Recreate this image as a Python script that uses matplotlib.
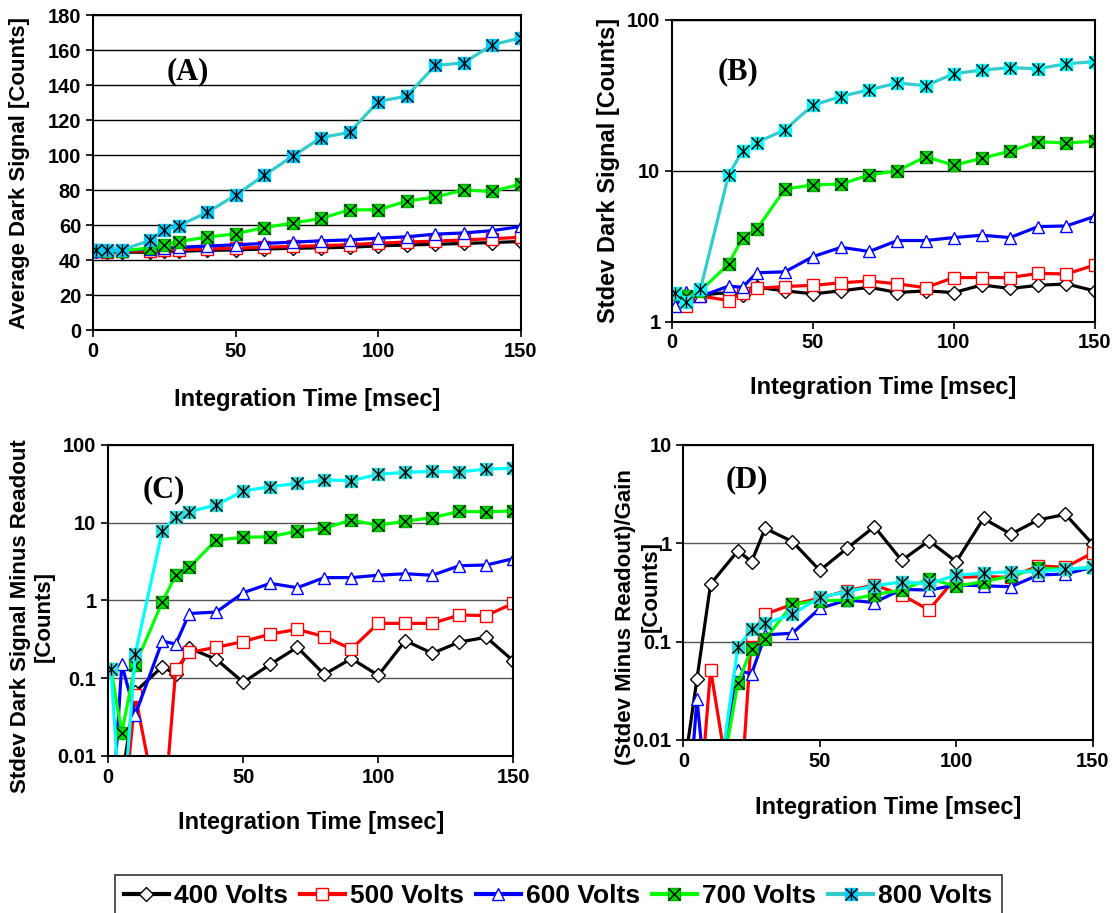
import numpy as np
import matplotlib
matplotlib.use("Agg")
import matplotlib.pyplot as plt
from matplotlib.lines import Line2D

plt.rcParams["font.family"] = ["Liberation Sans", "DejaVu Sans"]
plt.rcParams["font.weight"] = "bold"

# integration time [msec]
x = [1, 5, 10, 20, 25, 30, 40, 50, 60, 70, 80, 90, 100, 110, 120, 130, 140, 150]
volts = ["400 Volts", "500 Volts", "600 Volts", "700 Volts", "800 Volts"]
LOW = 0.001  # points that fall below the log axes

# (A) average dark signal
a400 = [45, 44.5, 44.5, 44.5, 45, 45, 45.5, 45.8, 46.3, 46.7, 47, 47.3, 48.1, 48.6, 49, 49.5, 50, 50.6]
a500 = [45, 44.8, 45, 45.3, 45.7, 46, 46.3, 46.8, 47.3, 47.8, 48.2, 48.8, 49.6, 50.3, 50.8, 51.5, 52.2, 53]
a600 = [45.3, 45.2, 45.5, 46.3, 46.8, 47.3, 48, 48.7, 49.5, 50.2, 51, 51.5, 52.5, 53.3, 54.8, 55.5, 56.8, 59.2]
a700 = [45.8, 45.4, 45.4, 46.8, 48.7, 50.6, 53.1, 55, 58.6, 61.1, 63.8, 68.7, 68.7, 73.7, 76, 80, 79.2, 83.4]
a800 = [45.8, 45.8, 45.8, 51.2, 57.3, 59.6, 67.2, 77.1, 88.4, 99.3, 110, 113, 130.6, 133.7, 151.2, 152.7, 163, 167]

# (B) stdev dark signal
b400 = [1.45, 1.35, 1.5, 1.56, 1.5, 1.69, 1.6, 1.53, 1.6, 1.69, 1.56, 1.6, 1.56, 1.75, 1.66, 1.74, 1.78, 1.6]
b500 = [1.39, 1.27, 1.48, 1.38, 1.56, 1.66, 1.71, 1.74, 1.81, 1.86, 1.78, 1.68, 1.96, 1.96, 1.96, 2.09, 2.07, 2.37]
b600 = [1.27, 1.58, 1.47, 1.72, 1.69, 2.11, 2.14, 2.7, 3.11, 2.92, 3.45, 3.45, 3.61, 3.74, 3.61, 4.27, 4.31, 4.98]
b700 = [1.52, 1.48, 1.6, 2.41, 3.61, 4.1, 7.56, 8.07, 8.16, 9.4, 10, 12.4, 10.9, 12.1, 13.5, 15.6, 15.3, 15.7]
b800 = [1.56, 1.36, 1.64, 9.4, 13.6, 15.4, 18.7, 27.3, 31.1, 34.5, 38.2, 36.7, 44, 46.6, 48.3, 47.5, 51.3, 52.9]

# (C) stdev minus readout
c400 = [LOW, 0.005, 0.067, 0.141, 0.112, 0.243, 0.175, 0.0886, 0.151, 0.25, 0.112, 0.179, 0.109, 0.304, 0.209, 0.292, 0.336, 0.167]
c500 = [LOW, LOW, 0.06, LOW, 0.131, 0.215, 0.25, 0.296, 0.37, 0.425, 0.343, 0.238, 0.508, 0.508, 0.508, 0.65, 0.64, 0.92]
c600 = [LOW, 0.151, 0.034, 0.3, 0.275, 0.68, 0.71, 1.26, 1.66, 1.46, 1.97, 1.97, 2.11, 2.21, 2.11, 2.8, 2.86, 3.45]
c700 = [0.13, 0.02, 0.148, 0.957, 2.13, 2.67, 6.0, 6.5, 6.6, 7.8, 8.5, 10.8, 9.3, 10.5, 11.6, 14.0, 13.8, 14.2]
c800 = [0.13, LOW, 0.205, 7.9, 11.7, 13.9, 16.9, 25.6, 29.1, 32.1, 35.5, 34.8, 42, 44.5, 45.8, 45, 49.1, 50.1]

# (D) (stdev minus readout)/gain
d400 = [0.007, 0.042, 0.386, 0.84, 0.65, 1.42, 1.04, 0.53, 0.89, 1.48, 0.67, 1.06, 0.65, 1.79, 1.24, 1.73, 1.97, 0.98]
d500 = [LOW, LOW, 0.052, LOW, 0.117, 0.19, 0.24, 0.276, 0.33, 0.377, 0.3, 0.21, 0.45, 0.46, 0.45, 0.59, 0.57, 0.8]
d600 = [LOW, 0.026, LOW, 0.051, 0.047, 0.117, 0.122, 0.218, 0.265, 0.25, 0.34, 0.335, 0.377, 0.37, 0.362, 0.476, 0.488, 0.57]
d700 = [LOW, LOW, LOW, 0.038, 0.085, 0.106, 0.24, 0.26, 0.265, 0.3, 0.335, 0.434, 0.368, 0.407, 0.465, 0.557, 0.545, 0.57]
d800 = [LOW, LOW, LOW, 0.0875, 0.133, 0.153, 0.19, 0.282, 0.322, 0.368, 0.407, 0.386, 0.476, 0.495, 0.515, 0.515, 0.545, 0.57]


def series_styles(cyan_line, cyan_face):
    # (line colour, marker, face, edge, overlay markers)
    return [
        ("black", "D", "white", "black", []),
        ("#ff0000", "s", "white", "#ff0000", []),
        ("#0000ff", "^", "white", "#0000ff", []),
        ("#00ff00", "s", "#00dd00", "#00aa00", ["x"]),
        (cyan_line, "s", cyan_face, cyan_face, ["x", "|"]),
    ]


def draw(ax, ys, styles):
    for y, (lc, m, fc, ec, over) in zip(ys, styles):
        ms = 7 if m == "D" else 8.5
        ax.plot(x, y, color=lc, lw=2.3, marker=m, ms=ms, mfc=fc, mec=ec, mew=1.0)
        for o in over:
            ax.plot(x, y, ls="none", marker=o, ms=8.5, color="black", mew=1.0)


def style_axes(ax, label, lx, ly):
    for s in ax.spines.values():
        s.set_linewidth(1.5)
        s.set_color("black")
    ax.tick_params(direction="out", length=5, width=1.2, labelsize=14.5, which="major")
    ax.tick_params(which="minor", length=0)
    ax.yaxis.grid(True, color="black", lw=1.0)
    ax.set_axisbelow(True)
    ax.set_xlim(0, 150)
    ax.set_xticks([0, 50, 100, 150])
    for t in ax.get_xticklabels() + ax.get_yticklabels():
        t.set_fontweight("bold")
    ax.text(lx, ly, label, transform=ax.transAxes, ha="center", va="center",
            fontsize=22, fontweight="bold", family="Liberation Serif")


fig = plt.figure(figsize=(11.14, 9.13), dpi=100)
axA = fig.add_axes([0.0835, 0.6385, 0.384, 0.345])
axB = fig.add_axes([0.6035, 0.6477, 0.379, 0.3304])
axC = fig.add_axes([0.0972, 0.172, 0.3636, 0.3406])
axD = fig.add_axes([0.6134, 0.1895, 0.3675, 0.3231])

stA = series_styles("#33cccc", "#00ccff")
stB = series_styles("#33cccc", "#00ffff")
stC = series_styles("#00ffff", "#33dddd")

draw(axA, [a400, a500, a600, a700, a800], stA)
draw(axB, [b400, b500, b600, b700, b800], stB)
draw(axC, [c400, c500, c600, c700, c800], stC)
draw(axD, [d400, d500, d600, d700, d800], stC)

axA.set_ylim(0, 180)
axA.set_yticks(np.arange(0, 181, 20))
style_axes(axA, "(A)", 0.222, 0.819)

axB.set_yscale("log")
axB.set_ylim(1, 100)
axB.set_yticks([1, 10, 100])
axB.set_yticklabels(["1", "10", "100"])
style_axes(axB, "(B)", 0.156, 0.828)

axC.set_yscale("log")
axC.set_ylim(0.01, 100)
axC.set_yticks([0.01, 0.1, 1, 10, 100])
axC.set_yticklabels(["0.01", "0.1", "1", "10", "100"])
style_axes(axC, "(C)", 0.136, 0.855)

axD.set_yscale("log")
axD.set_ylim(0.01, 10)
axD.set_yticks([0.01, 0.1, 1, 10])
axD.set_yticklabels(["0.01", "0.1", "1", "10"])
style_axes(axD, "(D)", 0.156, 0.881)

for ax in (axC, axD):
    ax.yaxis.grid(True, color="#555555", lw=1.0)

lab = dict(fontsize=16, fontweight="bold")
axA.set_ylabel("Average Dark Signal [Counts]", **lab)
axA.yaxis.set_label_coords(-0.147, 0.5)
axB.set_ylabel("Stdev Dark Signal [Counts]", fontsize=17, fontweight="bold")
axB.yaxis.set_label_coords(-0.123, 0.5)
axC.set_ylabel("Stdev Dark Signal Minus Readout\n[Counts]", linespacing=1.2, **lab)
axC.yaxis.set_label_coords(-0.131, 0.45)
# panel D label: two rotated lines placed separately
axD.text(-0.142, 0.417, "(Stdev Minus Readout)/Gain", transform=axD.transAxes,
         rotation=90, ha="center", va="center", **lab)
axD.text(-0.078, 0.52, "[Counts]", transform=axD.transAxes,
         rotation=90, ha="center", va="center", **lab)

xl = [(axA, -0.184), (axB, -0.18), (axC, -0.177), (axD, -0.19)]
for ax, yy in xl:
    ax.set_xlabel("Integration Time [msec]", fontsize=17, fontweight="bold")
    ax.xaxis.set_label_coords(0.5, yy)

# legend with combined marker handles
handles = []
for lc, m, fc, ec, over in series_styles("#33cccc", "#00ccff"):
    ms = 7 if m == "D" else 8.5
    base = Line2D([], [], color=lc, lw=3, marker=m, ms=ms, mfc=fc, mec=ec, mew=1.0)
    parts = [base] + [Line2D([], [], ls="none", marker=o, ms=8.5, color="black", mew=1.0)
                      for o in over]
    handles.append(tuple(parts))
leg = fig.legend(handles, volts, loc="upper center", bbox_to_anchor=(0.501, 0.0416), ncol=5,
                 frameon=True, fancybox=False, edgecolor="black",
                 handlelength=1.7, handletextpad=0.2, columnspacing=0.45,
                 borderpad=0.35, borderaxespad=0.0, prop={"weight": "bold", "size": 19})
leg.get_frame().set_linewidth(1.2)

fig.savefig("out.png", dpi=100, facecolor="white")
